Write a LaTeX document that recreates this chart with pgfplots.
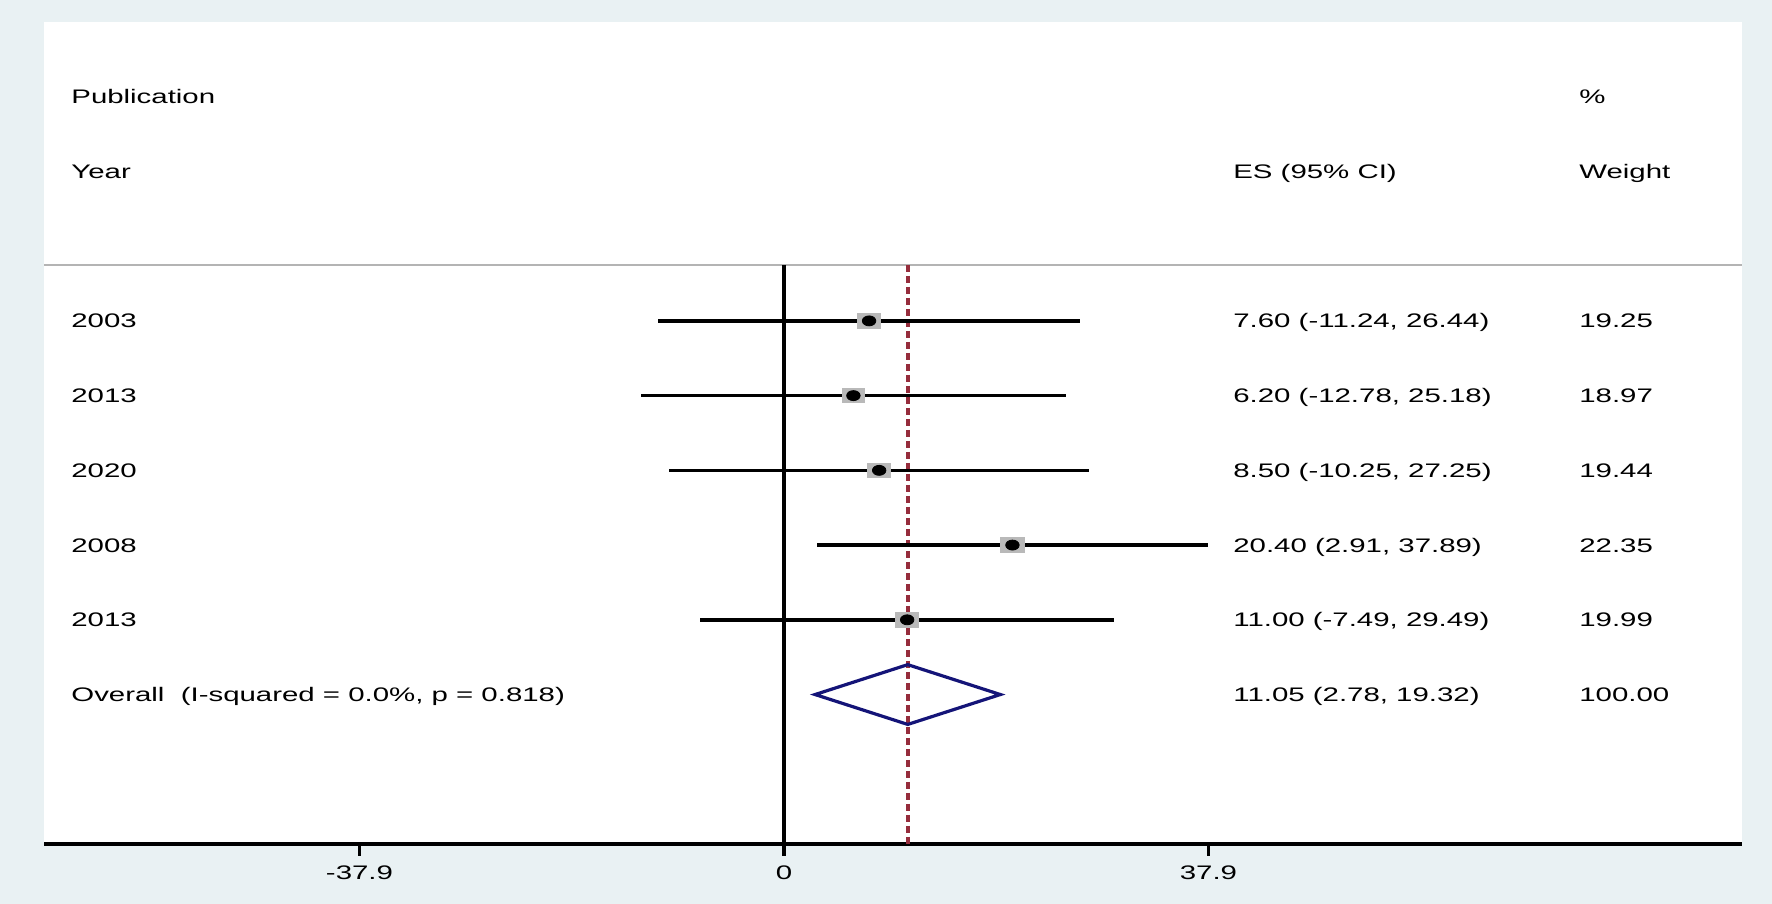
\documentclass[border=0pt]{standalone}
\usepackage{fontspec}
\setmainfont{Liberation Sans}[FakeStretch=1.5]
\usepackage{pgfplots}
\usepackage{pgfplotstable}
\pgfplotsset{compat=1.18}

\definecolor{bgc}{RGB}{233,241,243}
\definecolor{sepgray}{RGB}{180,180,180}
\definecolor{boxgray}{RGB}{185,185,185}
\definecolor{refred}{RGB}{150,45,60}
\definecolor{navyd}{RGB}{20,20,120}

% study rows: row, effect size, CI low, CI high, weight
\pgfplotstableread{
row es lo hi w
-1 7.60 -11.24 26.44 19.25
-2 6.20 -12.78 25.18 18.97
-3 8.50 -10.25 27.25 19.44
-4 20.40 2.91 37.89 22.35
-5 11.00 -7.49 29.49 19.99
}\studies

\begin{document}
\fontsize{9.8}{12}\selectfont
\begin{tikzpicture}
\fill[bgc] (-22pt,-30pt) rectangle (864pt,422pt);
\begin{axis}[
    scale only axis,
    width=849pt, height=411pt,
    xmin=-66.07, xmax=85.54,
    ymin=-8, ymax=3,
    clip=false,
    axis background/.style={fill=white},
    axis x line*=bottom,
    axis y line=none,
    x axis line style={line width=1.6pt, black},
    xtick={-37.9,0,37.9},
    xticklabels={-37.9,0,37.9},
    tick align=outside,
    major tick length=6pt,
    xtick style={line width=1.6pt, black},
    xticklabel style={anchor=base, yshift=-12pt},
    ytick=\empty,
]
% separator under the header
\addplot[sepgray, line width=1.1pt] coordinates {(-66.07,-0.25) (85.54,-0.25)};
% no-effect line and overall line
\addplot[black, line width=1.7pt] coordinates {(0,-0.25) (0,-8)};
\addplot[refred, line width=1.9pt, dash pattern=on 3.5pt off 2pt] coordinates {(11.05,-0.25) (11.05,-8)};

% weight boxes
\addplot[only marks, mark=square*, boxgray,
    mark options={xscale=1.6, fill=boxgray, draw=boxgray},
    visualization depends on={0.8*sqrt(\thisrow{w}) \as \msize},
    scatter, scatter/use mapped color={fill=boxgray, draw=boxgray},
    scatter/@pre marker code/.append style={/tikz/mark size=\msize}]
    table[x=es, y=row] \studies;

% confidence intervals
\addplot[only marks, mark=none, black,
    error bars/.cd, x dir=both, x explicit, error mark=none,
    error bar style={line width=1.7pt, black}]
    table[x=es, y=row,
      x error plus expr=\thisrow{hi}-\thisrow{es},
      x error minus expr=\thisrow{es}-\thisrow{lo}] \studies;

% point estimates
\addplot[only marks, mark=*, black, mark size=2.5pt,
    mark options={xscale=1.35}]
    table[x=es, y=row] \studies;

% pooled estimate
\addplot[navyd, line width=1.6pt, line join=miter]
    coordinates {(2.78,-6) (11.05,-5.6) (19.32,-6) (11.05,-6.4)} -- cycle;

% text columns
\tikzset{lab/.style={anchor=base west, yshift=-3.5pt, inner sep=0pt}}
\node[lab] at (axis cs:-63.66,2) {Publication};
\node[lab] at (axis cs:-63.66,1) {Year};
\node[lab] at (axis cs:40.09,1) {ES (95\% CI)};
\node[lab] at (axis cs:70.98,2) {\%};
\node[lab] at (axis cs:70.98,1) {Weight};

\node[lab] at (axis cs:-63.66,-1) {2003};
\node[lab] at (axis cs:-63.66,-2) {2013};
\node[lab] at (axis cs:-63.66,-3) {2020};
\node[lab] at (axis cs:-63.66,-4) {2008};
\node[lab] at (axis cs:-63.66,-5) {2013};
\node[lab] at (axis cs:-63.66,-6) {Overall\ \ (I-squared = 0.0\%, p = 0.818)};

\node[lab] at (axis cs:40.09,-1) {7.60 (-11.24, 26.44)};
\node[lab] at (axis cs:40.09,-2) {6.20 (-12.78, 25.18)};
\node[lab] at (axis cs:40.09,-3) {8.50 (-10.25, 27.25)};
\node[lab] at (axis cs:40.09,-4) {20.40 (2.91, 37.89)};
\node[lab] at (axis cs:40.09,-5) {11.00 (-7.49, 29.49)};
\node[lab] at (axis cs:40.09,-6) {11.05 (2.78, 19.32)};

\node[lab] at (axis cs:70.98,-1) {19.25};
\node[lab] at (axis cs:70.98,-2) {18.97};
\node[lab] at (axis cs:70.98,-3) {19.44};
\node[lab] at (axis cs:70.98,-4) {22.35};
\node[lab] at (axis cs:70.98,-5) {19.99};
\node[lab] at (axis cs:70.98,-6) {100.00};
\end{axis}
\pgfresetboundingbox
\path (-22pt,-30pt) rectangle (864pt,422pt);
\end{tikzpicture}
\end{document}
